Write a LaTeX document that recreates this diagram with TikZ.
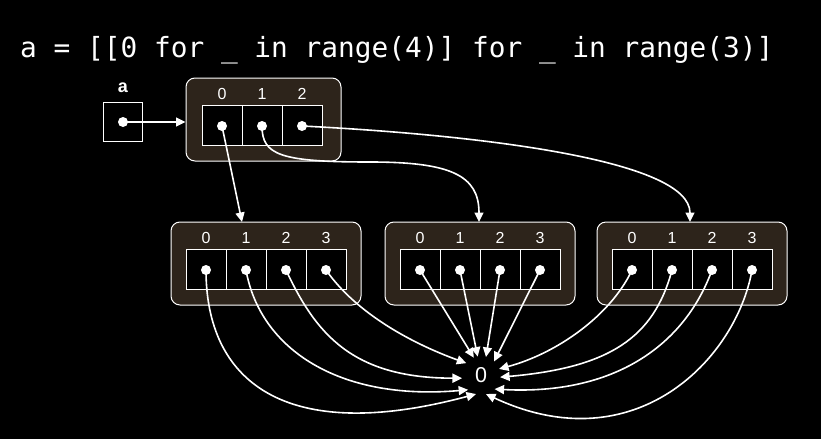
\documentclass[tikz,border=0pt]{standalone}
\usepackage{fontspec}
\setmainfont{Liberation Sans}
\newfontfamily\monof{DejaVu Sans Mono}
\usetikzlibrary{arrows.meta}
\definecolor{framebrown}{RGB}{45,36,27}
\begin{document}
\begin{tikzpicture}[x=1pt,y=1pt,
  conn/.style={draw=white, line width=1.6pt, -{Triangle[length=9.5pt,width=9pt]}},
  frame/.style={draw=white, fill=framebrown, line width=1pt, rounded corners=9pt, inner sep=0pt, minimum height=83pt},
  cell/.style={draw=white, fill=black, line width=1pt, inner sep=0pt, minimum width=40pt, minimum height=40pt},
  dot/.style={circle, fill=white, inner sep=0pt, minimum size=10pt},
  idx/.style={text=white, font=\fontsize{16}{16}\selectfont, inner sep=0pt},
]
\path[use as bounding box, fill=black] (0,0) rectangle (821,-439);

% title
\node[anchor=base west, inner sep=0pt, text=white, font=\monof\fontsize{27.8}{30}\selectfont] (title) at (20,-57) {a = [[0 for \_ in range(4)] for \_ in range(3)]};

% variable a
\node[draw=white, line width=1pt, minimum size=39pt, inner sep=0pt] (abox) at (122.5,-121.5) {};
\node[dot] (adot) at (123,-122) {};
\node[text=white, inner sep=0pt, font=\bfseries\fontsize{18}{18}\selectfont] (alab) at (123,-87.5) {a};

% outer list
\node[frame, minimum width=155pt] (top) at (263.5,-119.5) {};
\foreach \k in {0,1,2} {
  \pgfmathsetmacro\xx{222+40*\k}
  \node[cell] (tc\k) at (\xx,-125.5) {};
  \node[idx] (tl\k) at (\xx,-94) {\k};
  \node[dot] (t\k) at (\xx,-126) {};
}

% inner lists
\foreach \f/\cx in {1/266,2/480,3/692} {
  \node[frame, minimum width=190pt] (f\f) at (\cx,-263.5) {};
  \foreach \k in {0,1,2,3} {
    \pgfmathsetmacro\xx{\cx-60+40*\k}
    \node[cell] (c\f\k) at (\xx,-269.5) {};
    \node[idx] (l\f\k) at (\xx,-238) {\k};
    \node[dot] (d\f\k) at (\xx,-270) {};
  }
}

% shared zero
\node[circle, minimum size=38pt, inner sep=0pt, text=white, font=\fontsize{21.5}{22}\selectfont] (zero) at (481,-375.5) {0};

% connectors from a and the outer list
\coordinate (in1) at (242,-222);
\coordinate (in2) at (479,-222);
\coordinate (in3) at (690,-222);
\coordinate (w1) at (370,-162);
\draw[conn] (adot.center) -- (adot.center -| top.west);
\draw[conn] (t0.center) -- (in1);
\draw[conn] (t1.center) .. controls +(0,-29) and +(-90,0) .. (w1) .. controls +(80,0) and +(0,47) .. (in2);
\draw[conn] (t2.center) .. controls +(178,-9) and +(0,62) .. (in3);

% connectors to zero
\draw[conn] (d10.center) to[out=-90,in=195,out distance=110pt,in distance=200pt] (zero.255);
\draw[conn] (d11.center) to[out=-80,in=185,out distance=80pt,in distance=130pt] (zero.228);
\draw[conn] (d12.center) to[out=-65,in=180,out distance=70pt,in distance=110pt] (zero.188);
\draw[conn] (d13.center) to[out=-55,in=160,out distance=55pt,in distance=55pt] (zero.140);
\draw[conn] (d20.center) -- (zero.112);
\draw[conn] (d21.center) -- (zero.100);
\draw[conn] (d22.center) -- (zero.75);
\draw[conn] (d23.center) -- (zero.47);
\draw[conn] (d30.center) to[out=-115,in=15,out distance=50pt,in distance=60pt] (zero.20);
\draw[conn] (d31.center) to[out=-105,in=5,out distance=70pt,in distance=110pt] (zero.355);
\draw[conn] (d32.center) to[out=-110,in=-3,out distance=80pt,in distance=120pt] (zero.315);
\draw[conn] (d33.center) to[out=-100,in=-25,out distance=90pt,in distance=165pt] (zero.285);
\end{tikzpicture}
\end{document}
